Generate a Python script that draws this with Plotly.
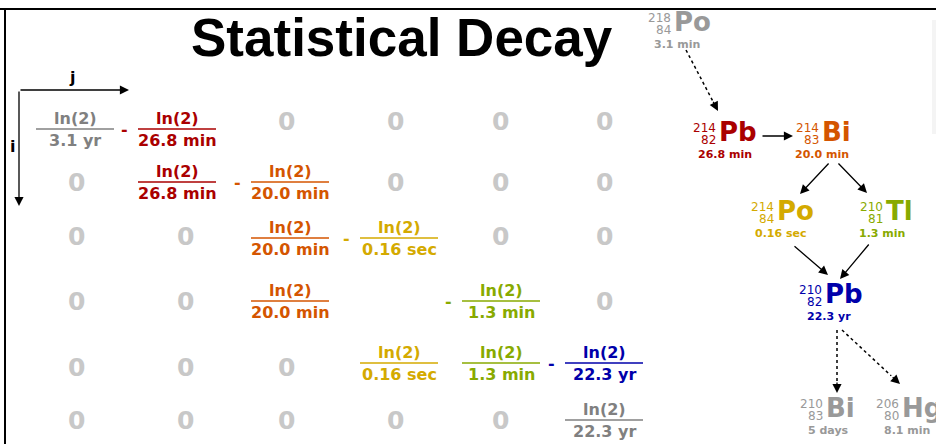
'''
Statistical decay slide: decay matrix + Rn-222 daughter chain
'''
import plotly.graph_objects as go

# ---- data ----------------------------------------------------------------
# decay matrix A[i][j]: half-life shown under ln(2), "0" = zero, "" = blank
matrix_labels = [
    ["3.1 yr", "26.8 min", "0", "0", "0", "0"],
    ["0", "26.8 min", "20.0 min", "0", "0", "0"],
    ["0", "0", "20.0 min", "0.16 sec", "0", "0"],
    ["0", "0", "20.0 min", "", "1.3 min", "0"],
    ["0", "0", "0", "0.16 sec", "1.3 min", "22.3 yr"],
    ["0", "0", "0", "0", "0", "22.3 yr"],
]
matrix_signs = [
    ["", "-", "", "", "", ""],
    ["", "", "-", "", "", ""],
    ["", "", "", "-", "", ""],
    ["", "", "", "", "-", ""],
    ["", "", "", "", "", "-"],
    ["", "", "", "", "", ""],
]
matrix_colors = [
    ["#808080", "#aa0000", None, None, None, None],
    [None, "#aa0000", "#d45500", None, None, None],
    [None, None, "#d45500", "#d4aa00", None, None],
    [None, None, "#d45500", None, "#88aa00", None],
    [None, None, None, "#d4aa00", "#88aa00", "#0000aa"],
    [None, None, None, None, None, "#808080"],
]

# decay chain
chain_symbol = ["Po", "Pb", "Bi", "Po", "Tl", "Pb", "Bi", "Hg"]
chain_mass = [218, 214, 214, 214, 210, 210, 210, 206]
chain_z = [84, 82, 83, 84, 81, 82, 83, 80]
chain_half = ["3.1 min", "26.8 min", "20.0 min", "0.16 sec", "1.3 min",
              "22.3 yr", "5 days", "8.1 min"]
chain_color = ["#999999", "#aa0000", "#d45500", "#d4aa00", "#88aa00",
               "#0000aa", "#999999", "#999999"]
# (from, to, dotted)
chain_links = [(0, 1, True), (1, 2, False), (2, 3, False), (2, 4, False),
               (3, 5, False), (4, 5, False), (5, 6, True), (5, 7, True)]

# ---- layout constants ----------------------------------------------------
W, H = 936, 444
FONT = "DejaVu Sans"
col_x = [75, 177, 290, 399, 501, 604]
row_y = [129, 182, 238, 301, 363, 420]
zero_x = [76, 185, 286, 395, 500, 604]
zero_y = [121, 182, 236, 301, 367, 420]
frac_half = 39

# nuclide symbol left edge / centre
node_x = [672, 717, 820, 775, 884, 823, 824, 900]
node_y = [24, 134, 134, 213, 213, 296, 410, 410]
half_x = [677, 725, 822, 781, 882, 829, 828, 907]
# arrow tail / head
link_xy = [((686, 50), (718, 111)), ((761, 136), (793, 136)),
           ((830, 162), (800, 194)), ((837, 162), (867, 193)),
           ((793, 245), (828, 275)), ((870, 243), (840, 279)),
           ((837, 330), (837, 393)), ((842, 330), (900, 384))]

ann = []
shapes = []


def text(x, y, s, size, color, bold=True, xanchor="center", family=FONT):
    ann.append(dict(x=x, y=y, xref="x", yref="y", text=f"<b>{s}</b>" if bold else s,
                    showarrow=False, xanchor=xanchor, yanchor="middle",
                    font=dict(family=family, size=size, color=color)))


def arrow(tail, head):
    ann.append(dict(x=head[0], y=head[1], ax=tail[0], ay=tail[1], xref="x", yref="y",
                    axref="x", ayref="y", text="", showarrow=True, arrowhead=2,
                    arrowsize=1.4, arrowwidth=1.3, arrowcolor="black"))


# title
text(402, 37, "Statistical Decay", 53, "black", family="Liberation Sans")

# frame
shapes.append(dict(type="line", xref="x", yref="y", x0=0, x1=W, y0=9, y1=9,
                   line=dict(color="black", width=2)))
shapes.append(dict(type="line", xref="x", yref="y", x0=5, x1=5, y0=9, y1=H,
                   line=dict(color="black", width=2)))
shapes.append(dict(type="rect", xref="x", yref="y", x0=932, x1=W + 4, y0=20, y1=134,
                   line=dict(width=0), fillcolor="#f4f4f4", layer="below"))

# i / j axes
arrow((19, 90), (129, 90))
arrow((19, 90), (19, 206))
text(72, 77, "j", 16, "black")
text(12, 146, "i", 16, "black")

# matrix
for i, row in enumerate(matrix_labels):
    for j, lab in enumerate(row):
        if lab == "":
            continue
        if lab == "0":
            text(zero_x[j], zero_y[i], "0", 25, "#c8c8c8")
            continue
        c = matrix_colors[i][j]
        x, y = col_x[j], row_y[i]
        text(x, y - 11, "ln(2)", 16, c)
        text(x, y + 11, lab, 16, c)
        shapes.append(dict(type="line", xref="x", yref="y", x0=x - frac_half,
                           x1=x + frac_half, y0=y, y1=y, line=dict(color=c, width=1.6)))
        if matrix_signs[i][j]:
            text(x - 53, y, matrix_signs[i][j], 16, c)

# decay chain nodes
for k, sym in enumerate(chain_symbol):
    c = chain_color[k]
    x, y = node_x[k], node_y[k]
    text(x, y - 2, sym, 26, c, xanchor="left")
    text(x + 1, y - 6, str(chain_mass[k]), 12, c, bold=False, xanchor="right")
    text(x + 1, y + 6, str(chain_z[k]), 12, c, bold=False, xanchor="right")
    text(half_x[k], y + 20, chain_half[k], 11, c)

# decay chain arrows (dotted ones: dotted shaft + short solid arrow for the head)
for (a, b, dotted), (tail, head) in zip(chain_links, link_xy):
    if dotted:
        dx, dy = head[0] - tail[0], head[1] - tail[1]
        n = (dx * dx + dy * dy) ** 0.5
        mid = (head[0] - dx / n * 12, head[1] - dy / n * 12)
        shapes.append(dict(type="line", xref="x", yref="y", x0=tail[0], y0=tail[1],
                           x1=mid[0], y1=mid[1],
                           line=dict(color="black", width=1.5, dash="dot")))
        tail = mid
    arrow(tail, head)

fig = go.Figure()
fig.update_layout(
    width=W, height=H, margin=dict(l=0, r=0, t=0, b=0),
    paper_bgcolor="white", plot_bgcolor="white", showlegend=False,
    xaxis=dict(range=[0, W], visible=False, fixedrange=True),
    yaxis=dict(range=[H, 0], visible=False, fixedrange=True),
    annotations=ann, shapes=shapes,
)
# page body has an 8px default margin; drop it so the slide sits at 0,0
fig.write_html("out.html", config=dict(displayModeBar=False),
               post_script="document.body.style.margin='0px';")
